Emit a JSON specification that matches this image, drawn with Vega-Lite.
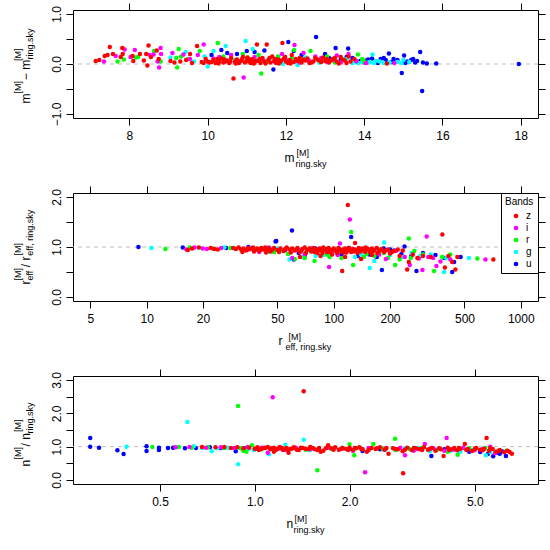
{
"$schema": "https://vega.github.io/schema/vega-lite/v6.json",
"background": "white",
"padding": {"left": 12, "top": 2, "right": 0, "bottom": 0},
"spacing": 75,
"bounds": "flush",
"resolve": {"scale": {"color": "independent"}, "legend": {"color": "independent"}},
"config": {
  "view": {"stroke": "black", "strokeWidth": 1},
  "axis": {"grid": false, "domain": false, "tickColor": "black", "tickWidth": 1, "tickSize": 7, "labelColor": "black", "labelFont": "Liberation Sans", "labelFontSize": 12, "titleFont": "Liberation Sans", "titleColor": "black", "titleFontWeight": "normal", "labelOverlap": false, "labelBound": false},
  "legend": {"titleFont": "Liberation Sans", "labelFont": "Liberation Sans", "titleColor": "black", "labelColor": "black"}
},
"datasets": {
"p1": [
{"x":10.1,"y":0.18,"b":"u"},{"x":10.35,"y":0.28,"b":"u"},{"x":10.5,"y":0.22,"b":"u"},{"x":10.75,"y":0.2,"b":"u"},{"x":11.0,"y":0.26,"b":"u"},{"x":11.2,"y":0.24,"b":"u"},{"x":11.45,"y":0.27,"b":"u"},{"x":11.68,"y":-0.11,"b":"u"},{"x":11.8,"y":0.14,"b":"u"},{"x":12.06,"y":0.44,"b":"u"},{"x":12.2,"y":0.26,"b":"u"},{"x":12.4,"y":0.18,"b":"u"},{"x":12.77,"y":0.54,"b":"u"},{"x":12.9,"y":0.1,"b":"u"},{"x":13.1,"y":0.12,"b":"u"},{"x":13.27,"y":0.32,"b":"u"},{"x":13.4,"y":0.1,"b":"u"},{"x":13.59,"y":0.31,"b":"u"},{"x":13.7,"y":0.12,"b":"u"},{"x":13.9,"y":0.06,"b":"u"},{"x":14.1,"y":0.09,"b":"u"},{"x":14.3,"y":0.05,"b":"u"},{"x":14.42,"y":0.1,"b":"u"},{"x":14.55,"y":0.08,"b":"u"},{"x":14.63,"y":0.21,"b":"u"},{"x":14.7,"y":0.04,"b":"u"},{"x":14.85,"y":0.08,"b":"u"},{"x":14.96,"y":-0.18,"b":"u"},{"x":15.02,"y":0.17,"b":"u"},{"x":15.1,"y":0.05,"b":"u"},{"x":15.2,"y":0.08,"b":"u"},{"x":15.3,"y":0.03,"b":"u"},{"x":15.43,"y":0.24,"b":"u"},{"x":15.48,"y":-0.54,"b":"u"},{"x":15.5,"y":0.03,"b":"u"},{"x":15.6,"y":0.01,"b":"u"},{"x":15.84,"y":0.01,"b":"u"},{"x":17.95,"y":0.0,"b":"u"},{"x":12.55,"y":0.08,"b":"u"},{"x":13.0,"y":0.2,"b":"u"},{"x":14.2,"y":0.11,"b":"u"},{"x":14.0,"y":0.03,"b":"u"},{"x":13.8,"y":0.05,"b":"u"},{"x":15.25,"y":0.1,"b":"u"},{"x":14.5,"y":0.12,"b":"u"},{"x":14.05,"y":0.07,"b":"u"},{"x":14.35,"y":0.02,"b":"u"},{"x":14.75,"y":0.1,"b":"u"},{"x":15.05,"y":0.02,"b":"u"},{"x":15.35,"y":0.06,"b":"u"},{"x":13.55,"y":0.14,"b":"u"},
{"x":9.05,"y":0.13,"b":"g"},{"x":9.44,"y":0.24,"b":"g"},{"x":9.65,"y":0.05,"b":"g"},{"x":9.92,"y":0.15,"b":"g"},{"x":10.0,"y":-0.05,"b":"g"},{"x":10.15,"y":0.26,"b":"g"},{"x":10.46,"y":0.36,"b":"g"},{"x":10.97,"y":0.46,"b":"g"},{"x":11.15,"y":0.3,"b":"g"},{"x":11.6,"y":0.12,"b":"g"},{"x":12.1,"y":0.06,"b":"g"},{"x":12.5,"y":0.13,"b":"g"},{"x":12.85,"y":0.03,"b":"g"},{"x":13.1,"y":0.06,"b":"g"},{"x":13.45,"y":0.08,"b":"g"},{"x":13.7,"y":0.02,"b":"g"},{"x":13.95,"y":0.05,"b":"g"},{"x":14.1,"y":0.03,"b":"g"},{"x":14.21,"y":0.19,"b":"g"},{"x":14.3,"y":0.06,"b":"g"},{"x":14.5,"y":0.02,"b":"g"},{"x":14.85,"y":0.04,"b":"g"},{"x":15.0,"y":0.08,"b":"g"},{"x":11.92,"y":0.0,"b":"g"},{"x":12.3,"y":-0.02,"b":"g"},{"x":14.15,"y":0.04,"b":"g"},{"x":14.25,"y":0.02,"b":"g"},{"x":13.3,"y":0.04,"b":"g"},{"x":13.55,"y":0.1,"b":"g"},{"x":13.85,"y":0.02,"b":"g"},{"x":14.4,"y":0.05,"b":"g"},{"x":14.65,"y":0.03,"b":"g"},{"x":14.95,"y":0.02,"b":"g"},{"x":15.15,"y":0.04,"b":"g"},
{"x":7.7,"y":0.05,"b":"r"},{"x":7.86,"y":0.09,"b":"r"},{"x":8.16,"y":0.13,"b":"r"},{"x":8.22,"y":0.14,"b":"r"},{"x":8.63,"y":0.26,"b":"r"},{"x":8.8,"y":0.05,"b":"r"},{"x":9.2,"y":0.12,"b":"r"},{"x":9.22,"y":-0.07,"b":"r"},{"x":9.26,"y":0.3,"b":"r"},{"x":9.32,"y":0.15,"b":"r"},{"x":9.8,"y":0.26,"b":"r"},{"x":10.26,"y":0.42,"b":"r"},{"x":10.7,"y":0.08,"b":"r"},{"x":11.0,"y":0.12,"b":"r"},{"x":11.37,"y":-0.19,"b":"r"},{"x":11.8,"y":0.15,"b":"r"},{"x":12.21,"y":0.28,"b":"r"},{"x":12.63,"y":0.26,"b":"r"},{"x":12.9,"y":0.05,"b":"r"},{"x":13.25,"y":0.03,"b":"r"},{"x":13.5,"y":0.08,"b":"r"},{"x":13.84,"y":0.19,"b":"r"},{"x":14.0,"y":0.05,"b":"r"},{"x":11.5,"y":0.04,"b":"r"},{"x":12.4,"y":0.1,"b":"r"},{"x":10.4,"y":0.15,"b":"r"},{"x":9.5,"y":0.1,"b":"r"},{"x":13.05,"y":0.15,"b":"r"},{"x":12.15,"y":0.12,"b":"r"},{"x":11.3,"y":0.18,"b":"r"},{"x":10.9,"y":0.2,"b":"r"},{"x":13.95,"y":0.1,"b":"r"},
{"x":7.35,"y":0.05,"b":"i"},{"x":7.65,"y":0.16,"b":"i"},{"x":7.88,"y":0.29,"b":"i"},{"x":8.03,"y":0.14,"b":"i"},{"x":8.14,"y":0.28,"b":"i"},{"x":8.52,"y":0.18,"b":"i"},{"x":8.62,"y":0.19,"b":"i"},{"x":8.76,"y":-0.07,"b":"i"},{"x":8.8,"y":0.32,"b":"i"},{"x":8.81,"y":0.2,"b":"i"},{"x":8.72,"y":0.05,"b":"i"},{"x":9.1,"y":0.22,"b":"i"},{"x":9.38,"y":0.19,"b":"i"},{"x":9.55,"y":0.1,"b":"i"},{"x":9.75,"y":0.18,"b":"i"},{"x":9.9,"y":0.39,"b":"i"},{"x":10.15,"y":0.11,"b":"i"},{"x":10.45,"y":0.08,"b":"i"},{"x":10.92,"y":-0.27,"b":"i"},{"x":11.1,"y":0.06,"b":"i"},{"x":11.4,"y":0.1,"b":"i"},{"x":11.7,"y":0.05,"b":"i"},{"x":12.0,"y":0.08,"b":"i"},{"x":12.22,"y":0.38,"b":"i"},{"x":12.35,"y":0.03,"b":"i"},{"x":12.6,"y":0.06,"b":"i"},{"x":12.9,"y":0.12,"b":"i"},{"x":13.05,"y":0.04,"b":"i"},{"x":13.4,"y":0.03,"b":"i"},{"x":13.6,"y":0.2,"b":"i"},{"x":13.8,"y":0.06,"b":"i"},{"x":14.05,"y":0.02,"b":"i"},{"x":14.77,"y":0.02,"b":"i"},{"x":12.45,"y":0.22,"b":"i"},{"x":11.2,"y":0.14,"b":"i"},{"x":10.7,"y":0.05,"b":"i"},{"x":13.2,"y":0.08,"b":"i"},{"x":12.75,"y":0.15,"b":"i"},{"x":13.3,"y":0.17,"b":"i"},{"x":11.9,"y":0.2,"b":"i"},{"x":10.6,"y":0.18,"b":"i"},{"x":10.3,"y":0.14,"b":"i"},
{"x":7.14,"y":0.06,"b":"z"},{"x":7.23,"y":0.08,"b":"z"},{"x":7.37,"y":0.16,"b":"z"},{"x":7.44,"y":0.18,"b":"z"},{"x":7.5,"y":0.34,"b":"z"},{"x":7.58,"y":0.2,"b":"z"},{"x":7.78,"y":0.14,"b":"z"},{"x":7.82,"y":0.32,"b":"z"},{"x":7.83,"y":0.2,"b":"z"},{"x":8.08,"y":0.16,"b":"z"},{"x":8.1,"y":0.06,"b":"z"},{"x":8.27,"y":0.2,"b":"z"},{"x":8.37,"y":0.07,"b":"z"},{"x":8.43,"y":0.2,"b":"z"},{"x":8.49,"y":0.37,"b":"z"},{"x":8.46,"y":-0.03,"b":"z"},{"x":8.55,"y":0.14,"b":"z"},{"x":8.7,"y":0.27,"b":"z"},{"x":8.75,"y":0.1,"b":"z"},{"x":9.05,"y":0.06,"b":"z"},{"x":9.15,"y":0.03,"b":"z"},{"x":9.3,"y":0.05,"b":"z"},{"x":9.45,"y":0.08,"b":"z"},{"x":9.55,"y":0.2,"b":"z"},{"x":9.73,"y":0.36,"b":"z"},{"x":9.85,"y":0.04,"b":"z"},{"x":9.9,"y":0.02,"b":"z"},{"x":10.0,"y":0.05,"b":"z"},{"x":10.05,"y":0.03,"b":"z"},{"x":10.15,"y":0.08,"b":"z"},{"x":10.2,"y":0.02,"b":"z"},{"x":10.3,"y":0.06,"b":"z"},{"x":10.35,"y":0.11,"b":"z"},{"x":10.4,"y":0.03,"b":"z"},{"x":10.5,"y":0.07,"b":"z"},{"x":10.55,"y":0.02,"b":"z"},{"x":10.6,"y":0.12,"b":"z"},{"x":10.66,"y":-0.29,"b":"z"},{"x":10.7,"y":0.04,"b":"z"},{"x":10.75,"y":0.09,"b":"z"},{"x":10.8,"y":0.02,"b":"z"},{"x":10.85,"y":0.06,"b":"z"},{"x":10.9,"y":0.14,"b":"z"},{"x":10.95,"y":0.03,"b":"z"},{"x":11.0,"y":0.08,"b":"z"},{"x":11.05,"y":0.05,"b":"z"},{"x":11.1,"y":0.02,"b":"z"},{"x":11.15,"y":0.1,"b":"z"},{"x":11.2,"y":0.04,"b":"z"},{"x":11.26,"y":0.39,"b":"z"},{"x":11.3,"y":0.07,"b":"z"},{"x":11.35,"y":0.02,"b":"z"},{"x":11.4,"y":0.12,"b":"z"},{"x":11.45,"y":0.05,"b":"z"},{"x":11.51,"y":0.39,"b":"z"},{"x":11.55,"y":0.08,"b":"z"},{"x":11.6,"y":0.03,"b":"z"},{"x":11.65,"y":0.15,"b":"z"},{"x":11.7,"y":0.06,"b":"z"},{"x":11.75,"y":0.02,"b":"z"},{"x":11.8,"y":0.09,"b":"z"},{"x":11.85,"y":0.04,"b":"z"},{"x":11.91,"y":0.42,"b":"z"},{"x":11.95,"y":0.11,"b":"z"},{"x":12.0,"y":0.05,"b":"z"},{"x":12.05,"y":0.02,"b":"z"},{"x":12.1,"y":0.08,"b":"z"},{"x":12.15,"y":0.18,"b":"z"},{"x":12.2,"y":0.04,"b":"z"},{"x":12.3,"y":0.06,"b":"z"},{"x":12.35,"y":0.12,"b":"z"},{"x":12.4,"y":0.03,"b":"z"},{"x":12.5,"y":0.07,"b":"z"},{"x":12.6,"y":0.02,"b":"z"},{"x":12.7,"y":0.05,"b":"z"},{"x":12.8,"y":0.09,"b":"z"},{"x":12.9,"y":0.04,"b":"z"},{"x":13.0,"y":0.06,"b":"z"},{"x":13.1,"y":0.03,"b":"z"},{"x":13.2,"y":0.1,"b":"z"},{"x":13.3,"y":0.05,"b":"z"},{"x":13.4,"y":0.14,"b":"z"},{"x":13.5,"y":0.07,"b":"z"},{"x":13.55,"y":0.02,"b":"z"},{"x":13.6,"y":0.15,"b":"z"},{"x":14.58,"y":0.01,"b":"z"},{"x":10.25,"y":0.1,"b":"z"},{"x":11.02,"y":0.13,"b":"z"},{"x":11.88,"y":0.07,"b":"z"},{"x":12.45,"y":0.09,"b":"z"},{"x":12.75,"y":0.12,"b":"z"},{"x":13.15,"y":0.07,"b":"z"},{"x":10.45,"y":0.05,"b":"z"},{"x":11.25,"y":0.06,"b":"z"},{"x":9.6,"y":0.02,"b":"z"},{"x":9.95,"y":0.1,"b":"z"},{"x":10.1,"y":0.04,"b":"z"},{"x":10.28,"y":0.01,"b":"z"},{"x":10.42,"y":0.09,"b":"z"},{"x":10.58,"y":0.05,"b":"z"},{"x":10.72,"y":0.01,"b":"z"},{"x":10.88,"y":0.1,"b":"z"},{"x":11.08,"y":0.09,"b":"z"},{"x":11.18,"y":0.01,"b":"z"},{"x":11.33,"y":0.1,"b":"z"},{"x":11.48,"y":0.01,"b":"z"},{"x":11.58,"y":0.12,"b":"z"},{"x":11.72,"y":0.1,"b":"z"},{"x":11.82,"y":0.01,"b":"z"},{"x":11.98,"y":0.14,"b":"z"},{"x":12.12,"y":0.01,"b":"z"},{"x":12.25,"y":0.1,"b":"z"},{"x":12.38,"y":0.08,"b":"z"},{"x":12.55,"y":0.11,"b":"z"},{"x":12.65,"y":0.03,"b":"z"},{"x":12.85,"y":0.07,"b":"z"},{"x":12.95,"y":0.13,"b":"z"},{"x":13.05,"y":0.1,"b":"z"},{"x":13.25,"y":0.12,"b":"z"},{"x":13.35,"y":0.01,"b":"z"},{"x":13.45,"y":0.09,"b":"z"},{"x":13.65,"y":0.05,"b":"z"},{"x":13.75,"y":0.1,"b":"z"}
],
"p2": [
{"x":9.04,"y":1.0,"b":"u"},{"x":15.6,"y":0.99,"b":"u"},{"x":26.6,"y":0.98,"b":"u"},{"x":35,"y":1.0,"b":"u"},{"x":44,"y":0.97,"b":"u"},{"x":48.9,"y":1.11,"b":"u"},{"x":49.3,"y":1.12,"b":"u"},{"x":59.8,"y":1.33,"b":"u"},{"x":61.3,"y":0.75,"b":"u"},{"x":70,"y":0.83,"b":"u"},{"x":90,"y":0.95,"b":"u"},{"x":110,"y":0.85,"b":"u"},{"x":124,"y":1.2,"b":"u"},{"x":135,"y":0.82,"b":"u"},{"x":150,"y":0.97,"b":"u"},{"x":170,"y":0.8,"b":"u"},{"x":181,"y":0.54,"b":"u"},{"x":200,"y":0.95,"b":"u"},{"x":239,"y":1.01,"b":"u"},{"x":260,"y":0.82,"b":"u"},{"x":277,"y":0.52,"b":"u"},{"x":300,"y":0.88,"b":"u"},{"x":350,"y":0.84,"b":"u"},{"x":390,"y":0.78,"b":"u"},{"x":430,"y":0.5,"b":"u"},{"x":440,"y":0.7,"b":"u"},{"x":477,"y":0.8,"b":"u"},{"x":80,"y":0.97,"b":"u"},{"x":100,"y":0.96,"b":"u"},{"x":55,"y":0.94,"b":"u"},{"x":120,"y":0.98,"b":"u"},{"x":185,"y":0.97,"b":"u"},{"x":210,"y":0.93,"b":"u"},{"x":65,"y":0.88,"b":"u"},{"x":115,"y":0.9,"b":"u"},{"x":155,"y":0.85,"b":"u"},{"x":230,"y":0.86,"b":"u"},
{"x":10.6,"y":0.98,"b":"g"},{"x":19.5,"y":0.98,"b":"g"},{"x":26,"y":0.99,"b":"g"},{"x":30,"y":0.97,"b":"g"},{"x":40,"y":0.95,"b":"g"},{"x":58,"y":0.75,"b":"g"},{"x":68,"y":0.8,"b":"g"},{"x":80,"y":0.82,"b":"g"},{"x":95,"y":0.88,"b":"g"},{"x":120,"y":0.92,"b":"g"},{"x":156,"y":0.58,"b":"g"},{"x":165,"y":0.72,"b":"g"},{"x":186,"y":1.09,"b":"g"},{"x":200,"y":0.84,"b":"g"},{"x":230,"y":0.8,"b":"g"},{"x":260,"y":0.88,"b":"g"},{"x":290,"y":0.82,"b":"g"},{"x":330,"y":0.85,"b":"g"},{"x":389,"y":0.5,"b":"g"},{"x":400,"y":0.78,"b":"g"},{"x":528,"y":0.78,"b":"g"},{"x":75,"y":0.92,"b":"g"},{"x":140,"y":0.85,"b":"g"},{"x":50,"y":0.97,"b":"g"},{"x":105,"y":0.96,"b":"g"},{"x":45,"y":0.9,"b":"g"},{"x":88,"y":0.84,"b":"g"},{"x":130,"y":0.8,"b":"g"},{"x":175,"y":0.88,"b":"g"},
{"x":12.6,"y":0.96,"b":"r"},{"x":17,"y":0.99,"b":"r"},{"x":22.5,"y":0.97,"b":"r"},{"x":28,"y":0.98,"b":"r"},{"x":38,"y":0.96,"b":"r"},{"x":52,"y":0.93,"b":"r"},{"x":62,"y":0.76,"b":"r"},{"x":70,"y":0.78,"b":"r"},{"x":79,"y":0.72,"b":"r"},{"x":92,"y":0.85,"b":"r"},{"x":105,"y":0.9,"b":"r"},{"x":124,"y":1.3,"b":"r"},{"x":127,"y":0.64,"b":"r"},{"x":135,"y":0.92,"b":"r"},{"x":145,"y":0.8,"b":"r"},{"x":165,"y":0.82,"b":"r"},{"x":185,"y":0.88,"b":"r"},{"x":213,"y":0.64,"b":"r"},{"x":225,"y":0.75,"b":"r"},{"x":252,"y":1.17,"b":"r"},{"x":258,"y":0.78,"b":"r"},{"x":270,"y":0.92,"b":"r"},{"x":300,"y":0.85,"b":"r"},{"x":344,"y":0.52,"b":"r"},{"x":380,"y":0.8,"b":"r"},{"x":420,"y":0.85,"b":"r"},{"x":586,"y":0.77,"b":"r"},{"x":48,"y":0.9,"b":"r"},{"x":110,"y":0.78,"b":"r"},{"x":88,"y":0.97,"b":"r"},{"x":57,"y":0.86,"b":"r"},{"x":95,"y":0.8,"b":"r"},{"x":150,"y":0.86,"b":"r"},{"x":195,"y":0.78,"b":"r"},
{"x":16.3,"y":0.95,"b":"i"},{"x":18,"y":0.99,"b":"i"},{"x":20,"y":0.97,"b":"i"},{"x":21,"y":0.96,"b":"i"},{"x":25,"y":0.98,"b":"i"},{"x":35,"y":0.95,"b":"i"},{"x":45,"y":0.99,"b":"i"},{"x":55,"y":0.96,"b":"i"},{"x":65,"y":0.94,"b":"i"},{"x":75,"y":0.97,"b":"i"},{"x":85,"y":0.95,"b":"i"},{"x":94.4,"y":0.6,"b":"i"},{"x":108,"y":1.07,"b":"i"},{"x":100,"y":0.92,"b":"i"},{"x":122,"y":1.55,"b":"i"},{"x":130,"y":0.95,"b":"i"},{"x":150,"y":0.97,"b":"i"},{"x":175,"y":0.85,"b":"i"},{"x":190,"y":0.76,"b":"i"},{"x":200,"y":0.88,"b":"i"},{"x":215,"y":0.92,"b":"i"},{"x":240,"y":0.8,"b":"i"},{"x":255,"y":0.64,"b":"i"},{"x":285,"y":0.77,"b":"i"},{"x":298,"y":0.54,"b":"i"},{"x":314,"y":1.21,"b":"i"},{"x":320,"y":0.8,"b":"i"},{"x":340,"y":0.78,"b":"i"},{"x":354,"y":0.62,"b":"i"},{"x":372,"y":0.71,"b":"i"},{"x":420,"y":0.75,"b":"i"},{"x":647,"y":0.75,"b":"i"},{"x":60,"y":0.78,"b":"i"},{"x":40,"y":0.9,"b":"i"},{"x":70,"y":0.86,"b":"i"},{"x":105,"y":0.84,"b":"i"},{"x":160,"y":0.9,"b":"i"},
{"x":16.6,"y":0.94,"b":"z"},{"x":17.5,"y":0.97,"b":"z"},{"x":19,"y":0.99,"b":"z"},{"x":22,"y":0.98,"b":"z"},{"x":23,"y":0.96,"b":"z"},{"x":24,"y":0.95,"b":"z"},{"x":29,"y":0.98,"b":"z"},{"x":30,"y":0.96,"b":"z"},{"x":31,"y":0.99,"b":"z"},{"x":32,"y":0.95,"b":"z"},{"x":33,"y":0.97,"b":"z"},{"x":34,"y":0.93,"b":"z"},{"x":35,"y":0.98,"b":"z"},{"x":36,"y":0.96,"b":"z"},{"x":37,"y":0.99,"b":"z"},{"x":38,"y":0.94,"b":"z"},{"x":39,"y":0.97,"b":"z"},{"x":40,"y":0.92,"b":"z"},{"x":41,"y":0.98,"b":"z"},{"x":42,"y":0.95,"b":"z"},{"x":43,"y":0.99,"b":"z"},{"x":44,"y":0.93,"b":"z"},{"x":45,"y":0.97,"b":"z"},{"x":46,"y":0.91,"b":"z"},{"x":48,"y":0.98,"b":"z"},{"x":50,"y":0.94,"b":"z"},{"x":52,"y":0.97,"b":"z"},{"x":54,"y":0.92,"b":"z"},{"x":56,"y":0.99,"b":"z"},{"x":58,"y":0.95,"b":"z"},{"x":60,"y":0.97,"b":"z"},{"x":62,"y":0.93,"b":"z"},{"x":64,"y":0.98,"b":"z"},{"x":66,"y":0.9,"b":"z"},{"x":68,"y":0.96,"b":"z"},{"x":70,"y":0.99,"b":"z"},{"x":72,"y":0.94,"b":"z"},{"x":74,"y":0.97,"b":"z"},{"x":76,"y":0.91,"b":"z"},{"x":78,"y":0.98,"b":"z"},{"x":80,"y":0.95,"b":"z"},{"x":82,"y":0.88,"b":"z"},{"x":84,"y":0.97,"b":"z"},{"x":86,"y":0.93,"b":"z"},{"x":88,"y":0.99,"b":"z"},{"x":90,"y":0.96,"b":"z"},{"x":92,"y":0.9,"b":"z"},{"x":94,"y":0.98,"b":"z"},{"x":96,"y":0.94,"b":"z"},{"x":98,"y":0.85,"b":"z"},{"x":100,"y":0.97,"b":"z"},{"x":103,"y":0.92,"b":"z"},{"x":106,"y":0.98,"b":"z"},{"x":109,"y":0.95,"b":"z"},{"x":111,"y":0.52,"b":"z"},{"x":112,"y":0.89,"b":"z"},{"x":115,"y":0.97,"b":"z"},{"x":118,"y":0.93,"b":"z"},{"x":119,"y":1.84,"b":"z"},{"x":121,"y":0.98,"b":"z"},{"x":124,"y":0.9,"b":"z"},{"x":127,"y":0.96,"b":"z"},{"x":130,"y":1.08,"b":"z"},{"x":133,"y":0.94,"b":"z"},{"x":136,"y":0.98,"b":"z"},{"x":139,"y":0.91,"b":"z"},{"x":142,"y":0.97,"b":"z"},{"x":145,"y":0.93,"b":"z"},{"x":148,"y":0.99,"b":"z"},{"x":152,"y":0.95,"b":"z"},{"x":156,"y":0.9,"b":"z"},{"x":160,"y":0.97,"b":"z"},{"x":165,"y":0.94,"b":"z"},{"x":170,"y":0.98,"b":"z"},{"x":175,"y":0.92,"b":"z"},{"x":180,"y":0.96,"b":"z"},{"x":190,"y":0.93,"b":"z"},{"x":200,"y":0.87,"b":"z"},{"x":210,"y":0.92,"b":"z"},{"x":225,"y":0.82,"b":"z"},{"x":234,"y":0.93,"b":"z"},{"x":247,"y":0.55,"b":"z"},{"x":252,"y":0.7,"b":"z"},{"x":265,"y":0.85,"b":"z"},{"x":280,"y":0.78,"b":"z"},{"x":300,"y":0.82,"b":"z"},{"x":330,"y":0.8,"b":"z"},{"x":381,"y":1.25,"b":"z"},{"x":393,"y":0.59,"b":"z"},{"x":410,"y":0.82,"b":"z"},{"x":430,"y":0.7,"b":"z"},{"x":447,"y":0.55,"b":"z"},{"x":458,"y":0.8,"b":"z"},{"x":713,"y":0.75,"b":"z"},{"x":85,"y":0.82,"b":"z"},{"x":115,"y":0.8,"b":"z"},{"x":140,"y":0.76,"b":"z"},{"x":160,"y":0.84,"b":"z"},{"x":66,"y":0.8,"b":"z"},{"x":32.5,"y":0.9,"b":"z"},{"x":34.5,"y":0.96,"b":"z"},{"x":37.5,"y":0.91,"b":"z"},{"x":40.5,"y":0.95,"b":"z"},{"x":43.5,"y":0.89,"b":"z"},{"x":47,"y":0.95,"b":"z"},{"x":51,"y":0.9,"b":"z"},{"x":55,"y":0.95,"b":"z"},{"x":59,"y":0.89,"b":"z"},{"x":63,"y":0.95,"b":"z"},{"x":67,"y":0.92,"b":"z"},{"x":71,"y":0.88,"b":"z"},{"x":75,"y":0.94,"b":"z"},{"x":79,"y":0.9,"b":"z"},{"x":83,"y":0.94,"b":"z"},{"x":87,"y":0.88,"b":"z"},{"x":91,"y":0.93,"b":"z"},{"x":95,"y":0.9,"b":"z"},{"x":99,"y":0.95,"b":"z"},{"x":104,"y":0.88,"b":"z"},{"x":108,"y":0.93,"b":"z"},{"x":113,"y":0.95,"b":"z"},{"x":117,"y":0.89,"b":"z"},{"x":123,"y":0.94,"b":"z"},{"x":128,"y":0.91,"b":"z"},{"x":134,"y":0.88,"b":"z"},{"x":141,"y":0.94,"b":"z"},{"x":147,"y":0.9,"b":"z"},{"x":154,"y":0.95,"b":"z"},{"x":162,"y":0.91,"b":"z"},{"x":171,"y":0.88,"b":"z"},{"x":178,"y":0.94,"b":"z"},{"x":186,"y":0.9,"b":"z"},{"x":195,"y":0.95,"b":"z"},{"x":205,"y":0.9,"b":"z"},{"x":220,"y":0.95,"b":"z"}
],
"p3": [
{"x":0.3,"y":1.26,"b":"u"},{"x":0.3,"y":1.0,"b":"u"},{"x":0.32,"y":0.97,"b":"u"},{"x":0.366,"y":0.89,"b":"u"},{"x":0.383,"y":0.78,"b":"u"},{"x":0.453,"y":1.01,"b":"u"},{"x":0.453,"y":0.87,"b":"u"},{"x":0.496,"y":0.97,"b":"u"},{"x":0.496,"y":0.9,"b":"u"},{"x":0.53,"y":0.96,"b":"u"},{"x":0.55,"y":0.97,"b":"u"},{"x":0.6,"y":0.95,"b":"u"},{"x":0.65,"y":0.96,"b":"u"},{"x":0.72,"y":0.98,"b":"u"},{"x":0.78,"y":0.96,"b":"u"},{"x":0.87,"y":0.86,"b":"u"},{"x":0.93,"y":0.95,"b":"u"},{"x":1.0,"y":0.92,"b":"u"},{"x":1.2,"y":0.95,"b":"u"},{"x":1.6,"y":0.93,"b":"u"},{"x":2.0,"y":0.94,"b":"u"},{"x":2.2,"y":0.87,"b":"u"},{"x":2.5,"y":0.92,"b":"u"},{"x":3.64,"y":0.72,"b":"u"},{"x":4.0,"y":0.92,"b":"u"},{"x":5.2,"y":0.84,"b":"u"},{"x":5.72,"y":0.71,"b":"u"},{"x":5.9,"y":0.82,"b":"u"},{"x":6.28,"y":0.72,"b":"u"},{"x":6.1,"y":0.86,"b":"u"},{"x":4.8,"y":0.85,"b":"u"},{"x":5.5,"y":0.78,"b":"u"},{"x":6.0,"y":0.79,"b":"u"},
{"x":0.391,"y":1.0,"b":"g"},{"x":0.611,"y":1.74,"b":"g"},{"x":0.64,"y":1.01,"b":"g"},{"x":0.68,"y":0.96,"b":"g"},{"x":0.73,"y":0.86,"b":"g"},{"x":0.76,"y":0.95,"b":"g"},{"x":0.82,"y":0.97,"b":"g"},{"x":0.885,"y":0.47,"b":"g"},{"x":0.9,"y":0.96,"b":"g"},{"x":0.99,"y":0.9,"b":"g"},{"x":1.11,"y":0.77,"b":"g"},{"x":1.25,"y":1.06,"b":"g"},{"x":1.43,"y":1.21,"b":"g"},{"x":1.3,"y":0.93,"b":"g"},{"x":1.6,"y":0.95,"b":"g"},{"x":1.9,"y":0.97,"b":"g"},{"x":2.2,"y":0.93,"b":"g"},{"x":2.6,"y":0.91,"b":"g"},{"x":3.0,"y":0.95,"b":"g"},{"x":3.3,"y":0.96,"b":"g"},{"x":3.6,"y":0.86,"b":"g"},{"x":4.2,"y":0.88,"b":"g"},{"x":4.9,"y":0.9,"b":"g"},{"x":5.42,"y":0.74,"b":"g"},{"x":5.8,"y":0.82,"b":"g"},{"x":0.95,"y":0.92,"b":"g"},{"x":1.5,"y":0.89,"b":"g"},{"x":4.5,"y":0.85,"b":"g"},{"x":5.6,"y":0.84,"b":"g"},
{"x":0.473,"y":0.99,"b":"r"},{"x":0.574,"y":0.99,"b":"r"},{"x":0.63,"y":0.97,"b":"r"},{"x":0.71,"y":0.98,"b":"r"},{"x":0.8,"y":0.96,"b":"r"},{"x":0.885,"y":2.22,"b":"r"},{"x":0.9,"y":0.95,"b":"r"},{"x":0.94,"y":0.85,"b":"r"},{"x":0.98,"y":1.04,"b":"r"},{"x":1.05,"y":0.92,"b":"r"},{"x":1.25,"y":0.95,"b":"r"},{"x":1.45,"y":0.91,"b":"r"},{"x":1.58,"y":0.29,"b":"r"},{"x":1.75,"y":0.93,"b":"r"},{"x":2.0,"y":1.07,"b":"r"},{"x":2.07,"y":0.74,"b":"r"},{"x":2.38,"y":1.08,"b":"r"},{"x":2.55,"y":0.94,"b":"r"},{"x":2.79,"y":1.24,"b":"r"},{"x":3.1,"y":0.93,"b":"r"},{"x":3.4,"y":0.97,"b":"r"},{"x":3.8,"y":0.91,"b":"r"},{"x":4.41,"y":0.76,"b":"r"},{"x":4.8,"y":0.95,"b":"r"},{"x":5.4,"y":0.96,"b":"r"},{"x":0.92,"y":0.88,"b":"r"},{"x":1.15,"y":0.9,"b":"r"},{"x":2.8,"y":0.9,"b":"r"},{"x":4.1,"y":0.85,"b":"r"},{"x":6.3,"y":0.88,"b":"r"},
{"x":0.56,"y":0.98,"b":"i"},{"x":0.62,"y":0.99,"b":"i"},{"x":0.7,"y":0.97,"b":"i"},{"x":0.78,"y":0.98,"b":"i"},{"x":0.86,"y":0.96,"b":"i"},{"x":0.95,"y":0.99,"b":"i"},{"x":1.05,"y":0.97,"b":"i"},{"x":1.14,"y":2.48,"b":"i"},{"x":1.1,"y":0.82,"b":"i"},{"x":1.2,"y":0.95,"b":"i"},{"x":1.35,"y":0.97,"b":"i"},{"x":1.5,"y":0.93,"b":"i"},{"x":1.7,"y":0.96,"b":"i"},{"x":1.9,"y":0.94,"b":"i"},{"x":2.24,"y":0.23,"b":"i"},{"x":2.3,"y":0.96,"b":"i"},{"x":2.6,"y":0.93,"b":"i"},{"x":2.9,"y":0.97,"b":"i"},{"x":3.0,"y":0.74,"b":"i"},{"x":3.2,"y":0.88,"b":"i"},{"x":3.47,"y":1.08,"b":"i"},{"x":3.7,"y":0.95,"b":"i"},{"x":4.07,"y":1.26,"b":"i"},{"x":4.3,"y":0.91,"b":"i"},{"x":4.6,"y":0.97,"b":"i"},{"x":5.0,"y":0.89,"b":"i"},{"x":5.3,"y":0.93,"b":"i"},{"x":5.6,"y":1.0,"b":"i"},{"x":2.05,"y":0.88,"b":"i"},{"x":1.25,"y":0.9,"b":"i"},{"x":4.0,"y":0.88,"b":"i"},{"x":5.8,"y":0.8,"b":"i"},{"x":3.3,"y":0.92,"b":"i"},
{"x":0.68,"y":0.99,"b":"z"},{"x":0.75,"y":0.98,"b":"z"},{"x":0.8,"y":0.99,"b":"z"},{"x":0.84,"y":0.96,"b":"z"},{"x":0.88,"y":0.98,"b":"z"},{"x":0.92,"y":0.95,"b":"z"},{"x":0.96,"y":0.97,"b":"z"},{"x":1.0,"y":0.94,"b":"z"},{"x":1.02,"y":0.98,"b":"z"},{"x":1.05,"y":0.93,"b":"z"},{"x":1.08,"y":0.96,"b":"z"},{"x":1.1,"y":0.99,"b":"z"},{"x":1.12,"y":0.92,"b":"z"},{"x":1.15,"y":0.97,"b":"z"},{"x":1.18,"y":0.94,"b":"z"},{"x":1.2,"y":0.99,"b":"z"},{"x":1.23,"y":0.9,"b":"z"},{"x":1.26,"y":0.96,"b":"z"},{"x":1.3,"y":0.93,"b":"z"},{"x":1.33,"y":0.98,"b":"z"},{"x":1.36,"y":0.91,"b":"z"},{"x":1.4,"y":0.97,"b":"z"},{"x":1.43,"y":2.66,"b":"z"},{"x":1.45,"y":0.94,"b":"z"},{"x":1.5,"y":0.99,"b":"z"},{"x":1.55,"y":0.92,"b":"z"},{"x":1.6,"y":0.96,"b":"z"},{"x":1.65,"y":0.88,"b":"z"},{"x":1.71,"y":1.04,"b":"z"},{"x":1.75,"y":0.95,"b":"z"},{"x":1.8,"y":0.98,"b":"z"},{"x":1.85,"y":0.91,"b":"z"},{"x":1.9,"y":0.96,"b":"z"},{"x":1.95,"y":0.93,"b":"z"},{"x":2.0,"y":0.97,"b":"z"},{"x":2.05,"y":0.9,"b":"z"},{"x":2.1,"y":0.95,"b":"z"},{"x":2.15,"y":0.98,"b":"z"},{"x":2.2,"y":0.92,"b":"z"},{"x":2.27,"y":0.85,"b":"z"},{"x":2.35,"y":0.96,"b":"z"},{"x":2.42,"y":0.93,"b":"z"},{"x":2.5,"y":0.98,"b":"z"},{"x":2.58,"y":0.91,"b":"z"},{"x":2.66,"y":0.79,"b":"z"},{"x":2.75,"y":0.95,"b":"z"},{"x":2.85,"y":0.92,"b":"z"},{"x":2.96,"y":0.2,"b":"z"},{"x":3.05,"y":0.97,"b":"z"},{"x":3.15,"y":0.9,"b":"z"},{"x":3.25,"y":0.95,"b":"z"},{"x":3.35,"y":0.93,"b":"z"},{"x":3.45,"y":0.98,"b":"z"},{"x":3.55,"y":0.91,"b":"z"},{"x":3.65,"y":0.96,"b":"z"},{"x":3.75,"y":0.88,"b":"z"},{"x":3.85,"y":0.95,"b":"z"},{"x":3.98,"y":0.72,"b":"z"},{"x":4.1,"y":0.97,"b":"z"},{"x":4.2,"y":0.92,"b":"z"},{"x":4.3,"y":0.96,"b":"z"},{"x":4.4,"y":0.89,"b":"z"},{"x":4.5,"y":0.94,"b":"z"},{"x":4.65,"y":1.08,"b":"z"},{"x":4.75,"y":0.93,"b":"z"},{"x":4.9,"y":0.87,"b":"z"},{"x":5.05,"y":0.96,"b":"z"},{"x":5.2,"y":0.91,"b":"z"},{"x":5.35,"y":0.94,"b":"z"},{"x":5.45,"y":1.26,"b":"z"},{"x":5.55,"y":0.88,"b":"z"},{"x":5.7,"y":0.93,"b":"z"},{"x":5.85,"y":0.85,"b":"z"},{"x":6.0,"y":0.9,"b":"z"},{"x":6.2,"y":0.83,"b":"z"},{"x":6.35,"y":0.88,"b":"z"},{"x":6.56,"y":0.79,"b":"z"},{"x":1.28,"y":0.82,"b":"z"},{"x":1.62,"y":0.85,"b":"z"},{"x":2.95,"y":0.86,"b":"z"},{"x":1.15,"y":0.85,"b":"z"},{"x":1.03,"y":0.9,"b":"z"},{"x":1.07,"y":0.97,"b":"z"},{"x":1.13,"y":0.95,"b":"z"},{"x":1.17,"y":0.91,"b":"z"},{"x":1.22,"y":0.96,"b":"z"},{"x":1.27,"y":0.92,"b":"z"},{"x":1.32,"y":0.95,"b":"z"},{"x":1.38,"y":0.9,"b":"z"},{"x":1.42,"y":0.96,"b":"z"},{"x":1.48,"y":0.92,"b":"z"},{"x":1.53,"y":0.96,"b":"z"},{"x":1.58,"y":0.9,"b":"z"},{"x":1.68,"y":0.95,"b":"z"},{"x":1.78,"y":0.91,"b":"z"},{"x":1.88,"y":0.94,"b":"z"},{"x":1.98,"y":0.9,"b":"z"},{"x":2.08,"y":0.96,"b":"z"},{"x":2.18,"y":0.93,"b":"z"},{"x":2.3,"y":0.9,"b":"z"},{"x":2.45,"y":0.95,"b":"z"},{"x":2.62,"y":0.96,"b":"z"},{"x":2.8,"y":0.93,"b":"z"},{"x":3.0,"y":0.91,"b":"z"},{"x":3.2,"y":0.96,"b":"z"},{"x":3.4,"y":0.9,"b":"z"},{"x":3.6,"y":0.94,"b":"z"},{"x":3.9,"y":0.92,"b":"z"},{"x":4.15,"y":0.9,"b":"z"},{"x":4.45,"y":0.96,"b":"z"},{"x":4.7,"y":0.9,"b":"z"},{"x":5.0,"y":0.93,"b":"z"},{"x":5.3,"y":0.89,"b":"z"},{"x":5.6,"y":0.95,"b":"z"},{"x":5.95,"y":0.87,"b":"z"},{"x":6.45,"y":0.84,"b":"z"}
]
},
"vconcat": [
{
"width": 465, "height": 108,
"resolve": {"axis": {"x": "independent", "y": "independent"}},
"layer": [
{"data": {"values": [{}]}, "mark": {"type": "rule", "color": "#BEBEBE", "strokeDash": [4, 4], "strokeWidth": 1},
 "encoding": {"y": {"datum": 0, "type": "quantitative", "scale": {"domain": [-1.08, 1.08], "nice": false, "zero": false}, "axis": {"orient": "right", "values": [-1, -0.5, 0, 0.5, 1], "labels": false, "title": null}}}},
{"data": {"name": "p1"}, "mark": {"type": "circle", "size": 20, "opacity": 1},
 "encoding": {
  "x": {"field": "x", "type": "quantitative", "scale": {"domain": [6.56, 18.44], "nice": false, "zero": false}, "axis": {"orient": "bottom", "values": [8, 10, 12, 14, 16, 18], "format": "d", "labelPadding": 5, "title": "m", "titleFontSize": 12, "titleAngle": 0, "titleAlign": "left", "titleBaseline": "alphabetic", "titleX": 211, "titleY": 43}},
  "y": {"field": "y", "type": "quantitative", "scale": {"domain": [-1.08, 1.08], "nice": false, "zero": false}, "axis": {"orient": "left", "values": [-1, -0.5, 0, 0.5, 1], "labelExpr": "datum.value % 1 === 0 ? format(datum.value, '.1f') : ''", "labelAngle": -90, "labelAlign": "center", "labelBaseline": "bottom", "labelPadding": 3, "title": "m\u00a0\u00a0\u00a0\u00a0−\u00a0m", "titleFontSize": 12, "titleAngle": -90, "titleAlign": "left", "titleBaseline": "alphabetic", "titleX": -44, "titleY": 93}},
  "color": {"field": "b", "type": "nominal", "scale": {"domain": ["z", "i", "r", "g", "u"], "range": ["#FF0000", "#FF00FF", "#00FF00", "#00FFFF", "#0000FF"]}, "legend": null}
 }},
{"data": {"values": [{}]}, "mark": {"type": "point", "opacity": 0},
 "encoding": {
  "x": {"datum": 10, "type": "quantitative", "scale": {"domain": [6.56, 18.44], "nice": false, "zero": false}, "axis": {"orient": "top", "values": [8, 10, 12, 14, 16, 18], "labels": false, "title": null}},
  "y": {"datum": 0, "type": "quantitative", "scale": {"domain": [-1.08, 1.08], "nice": false, "zero": false}, "axis": {"orient": "left", "ticks": false, "labels": false, "title": "[M]\u00a0\u00a0\u00a0\u00a0\u00a0\u00a0\u00a0\u00a0[M]", "titleFontSize": 9, "titleAngle": -90, "titleAlign": "left", "titleBaseline": "alphabetic", "titleX": -53, "titleY": 83}}
 }},
{"data": {"values": [{}]}, "mark": {"type": "point", "opacity": 0},
 "encoding": {
  "x": {"datum": 10, "type": "quantitative", "scale": {"domain": [6.56, 18.44], "nice": false, "zero": false}, "axis": {"orient": "bottom", "ticks": false, "labels": false, "title": "[M]", "titleFontSize": 9, "titleAngle": 0, "titleAlign": "left", "titleBaseline": "alphabetic", "titleX": 223, "titleY": 37}},
  "y": {"datum": 0, "type": "quantitative", "scale": {"domain": [-1.08, 1.08], "nice": false, "zero": false}, "axis": {"orient": "left", "ticks": false, "labels": false, "title": "ring.sky", "titleFontSize": 9, "titleAngle": -90, "titleAlign": "left", "titleBaseline": "alphabetic", "titleX": -41, "titleY": 49}}
 }},
{"data": {"values": [{}]}, "mark": {"type": "point", "opacity": 0},
 "encoding": {
  "x": {"datum": 10, "type": "quantitative", "scale": {"domain": [6.56, 18.44], "nice": false, "zero": false}, "axis": {"orient": "bottom", "ticks": false, "labels": false, "title": "ring.sky", "titleFontSize": 9, "titleAngle": 0, "titleAlign": "left", "titleBaseline": "alphabetic", "titleX": 222, "titleY": 48}},
  "y": {"datum": 0, "type": "quantitative", "scale": {"domain": [-1.08, 1.08], "nice": false, "zero": false}, "axis": null}
 }}
]
},
{
"width": 465, "height": 108,
"resolve": {"axis": {"x": "independent", "y": "independent"}},
"layer": [
{"data": {"values": [{}]}, "mark": {"type": "rule", "color": "#BEBEBE", "strokeDash": [4, 4], "strokeWidth": 1},
 "encoding": {"y": {"datum": 1, "type": "quantitative", "scale": {"domain": [-0.08, 2.08], "nice": false, "zero": false}, "axis": {"orient": "right", "values": [0, 0.5, 1, 1.5, 2], "labels": false, "title": null}}}},
{"data": {"name": "p2"}, "mark": {"type": "circle", "size": 20, "opacity": 1},
 "encoding": {
  "x": {"field": "x", "type": "quantitative", "scale": {"type": "log", "domain": [4.04, 1236], "nice": false}, "axis": {"orient": "bottom", "values": [5, 10, 20, 50, 100, 200, 500, 1000], "format": "d", "labelPadding": 5, "title": "r", "titleFontSize": 12, "titleAngle": 0, "titleAlign": "left", "titleBaseline": "alphabetic", "titleX": 205, "titleY": 43}},
  "y": {"field": "y", "type": "quantitative", "scale": {"domain": [-0.08, 2.08], "nice": false, "zero": false}, "axis": {"orient": "left", "values": [0, 0.5, 1, 1.5, 2], "labelExpr": "datum.value % 1 === 0 ? format(datum.value, '.1f') : ''", "labelAngle": -90, "labelAlign": "center", "labelBaseline": "bottom", "labelPadding": 3, "title": "r\u00a0\u00a0\u00a0\u00a0/\u00a0r", "titleFontSize": 12, "titleAngle": -90, "titleAlign": "left", "titleBaseline": "alphabetic", "titleX": -44, "titleY": 91}},
  "color": {"field": "b", "type": "nominal", "scale": {"domain": ["z", "i", "r", "g", "u"], "range": ["#FF0000", "#FF00FF", "#00FF00", "#00FFFF", "#0000FF"]}, "legend": {"orient": "top-right", "offset": 0, "title": "Bands", "titleFontSize": 10, "titleFontWeight": "normal", "labelFontSize": 10, "strokeColor": "black", "fillColor": "white", "padding": 4, "symbolType": "circle", "symbolSize": 22, "symbolStrokeWidth": 0, "rowPadding": 2, "titlePadding": 4, "labelOffset": 5, "symbolOffset": 6}}
 }},
{"data": {"values": [{}]}, "mark": {"type": "point", "opacity": 0},
 "encoding": {
  "x": {"datum": 10, "type": "quantitative", "scale": {"type": "log", "domain": [4.04, 1236], "nice": false}, "axis": {"orient": "top", "values": [5, 10, 20, 50, 100, 200, 500, 1000], "labels": false, "title": null}},
  "y": {"datum": 1, "type": "quantitative", "scale": {"domain": [-0.08, 2.08], "nice": false, "zero": false}, "axis": {"orient": "left", "ticks": false, "labels": false, "title": "[M]\u00a0\u00a0\u00a0\u00a0\u00a0[M]", "titleFontSize": 9, "titleAngle": -90, "titleAlign": "left", "titleBaseline": "alphabetic", "titleX": -53, "titleY": 87}}
 }},
{"data": {"values": [{}]}, "mark": {"type": "point", "opacity": 0},
 "encoding": {
  "x": {"datum": 10, "type": "quantitative", "scale": {"type": "log", "domain": [4.04, 1236], "nice": false}, "axis": {"orient": "bottom", "ticks": false, "labels": false, "title": "[M]", "titleFontSize": 9, "titleAngle": 0, "titleAlign": "left", "titleBaseline": "alphabetic", "titleX": 215, "titleY": 38}},
  "y": {"datum": 1, "type": "quantitative", "scale": {"domain": [-0.08, 2.08], "nice": false, "zero": false}, "axis": {"orient": "left", "ticks": false, "labels": false, "title": "eff\u00a0\u00a0\u00a0\u00a0\u00a0\u00a0eff, ring.sky", "titleFontSize": 9, "titleAngle": -90, "titleAlign": "left", "titleBaseline": "alphabetic", "titleX": -41, "titleY": 87}}
 }},
{"data": {"values": [{}]}, "mark": {"type": "point", "opacity": 0},
 "encoding": {
  "x": {"datum": 10, "type": "quantitative", "scale": {"type": "log", "domain": [4.04, 1236], "nice": false}, "axis": {"orient": "bottom", "ticks": false, "labels": false, "title": "eff, ring.sky", "titleFontSize": 9, "titleAngle": 0, "titleAlign": "left", "titleBaseline": "alphabetic", "titleX": 212, "titleY": 48}},
  "y": {"datum": 1, "type": "quantitative", "scale": {"domain": [-0.08, 2.08], "nice": false, "zero": false}, "axis": null}
 }}
]
},
{
"width": 465, "height": 108,
"resolve": {"axis": {"x": "independent", "y": "independent"}},
"layer": [
{"data": {"values": [{}]}, "mark": {"type": "rule", "color": "#BEBEBE", "strokeDash": [4, 4], "strokeWidth": 1},
 "encoding": {"y": {"datum": 1, "type": "quantitative", "scale": {"domain": [-0.12, 3.12], "nice": false, "zero": false}, "axis": {"orient": "right", "values": [0, 0.5, 1, 1.5, 2, 2.5, 3], "labels": false, "title": null}}}},
{"data": {"name": "p3"}, "mark": {"type": "circle", "size": 20, "opacity": 1},
 "encoding": {
  "x": {"field": "x", "type": "quantitative", "scale": {"type": "log", "domain": [0.2645, 7.94], "nice": false}, "axis": {"orient": "bottom", "values": [0.5, 1, 2, 5], "format": ".1f", "labelPadding": 5, "title": "n", "titleFontSize": 12, "titleAngle": 0, "titleAlign": "left", "titleBaseline": "alphabetic", "titleX": 213, "titleY": 43}},
  "y": {"field": "y", "type": "quantitative", "scale": {"domain": [-0.12, 3.12], "nice": false, "zero": false}, "axis": {"orient": "left", "values": [0, 0.5, 1, 1.5, 2, 2.5, 3], "labelExpr": "datum.value % 1 === 0 ? format(datum.value, '.1f') : ''", "labelAngle": -90, "labelAlign": "center", "labelBaseline": "bottom", "labelPadding": 3, "title": "n\u00a0\u00a0\u00a0\u00a0/\u00a0n", "titleFontSize": 12, "titleAngle": -90, "titleAlign": "left", "titleBaseline": "alphabetic", "titleX": -44, "titleY": 90}},
  "color": {"field": "b", "type": "nominal", "scale": {"domain": ["z", "i", "r", "g", "u"], "range": ["#FF0000", "#FF00FF", "#00FF00", "#00FFFF", "#0000FF"]}, "legend": null}
 }},
{"data": {"values": [{}]}, "mark": {"type": "point", "opacity": 0},
 "encoding": {
  "x": {"datum": 1, "type": "quantitative", "scale": {"type": "log", "domain": [0.2645, 7.94], "nice": false}, "axis": {"orient": "top", "values": [0.5, 1, 2, 5], "labels": false, "title": null}},
  "y": {"datum": 1, "type": "quantitative", "scale": {"domain": [-0.12, 3.12], "nice": false, "zero": false}, "axis": {"orient": "left", "ticks": false, "labels": false, "title": "[M]\u00a0\u00a0\u00a0\u00a0\u00a0\u00a0[M]", "titleFontSize": 9, "titleAngle": -90, "titleAlign": "left", "titleBaseline": "alphabetic", "titleX": -53, "titleY": 83}}
 }},
{"data": {"values": [{}]}, "mark": {"type": "point", "opacity": 0},
 "encoding": {
  "x": {"datum": 1, "type": "quantitative", "scale": {"type": "log", "domain": [0.2645, 7.94], "nice": false}, "axis": {"orient": "bottom", "ticks": false, "labels": false, "title": "[M]", "titleFontSize": 9, "titleAngle": 0, "titleAlign": "left", "titleBaseline": "alphabetic", "titleX": 221, "titleY": 37}},
  "y": {"datum": 1, "type": "quantitative", "scale": {"domain": [-0.12, 3.12], "nice": false, "zero": false}, "axis": {"orient": "left", "ticks": false, "labels": false, "title": "ring.sky", "titleFontSize": 9, "titleAngle": -90, "titleAlign": "left", "titleBaseline": "alphabetic", "titleX": -41, "titleY": 57}}
 }},
{"data": {"values": [{}]}, "mark": {"type": "point", "opacity": 0},
 "encoding": {
  "x": {"datum": 1, "type": "quantitative", "scale": {"type": "log", "domain": [0.2645, 7.94], "nice": false}, "axis": {"orient": "bottom", "ticks": false, "labels": false, "title": "ring.sky", "titleFontSize": 9, "titleAngle": 0, "titleAlign": "left", "titleBaseline": "alphabetic", "titleX": 220, "titleY": 48}},
  "y": {"datum": 1, "type": "quantitative", "scale": {"domain": [-0.12, 3.12], "nice": false, "zero": false}, "axis": null}
 }}
]
}
]
}
